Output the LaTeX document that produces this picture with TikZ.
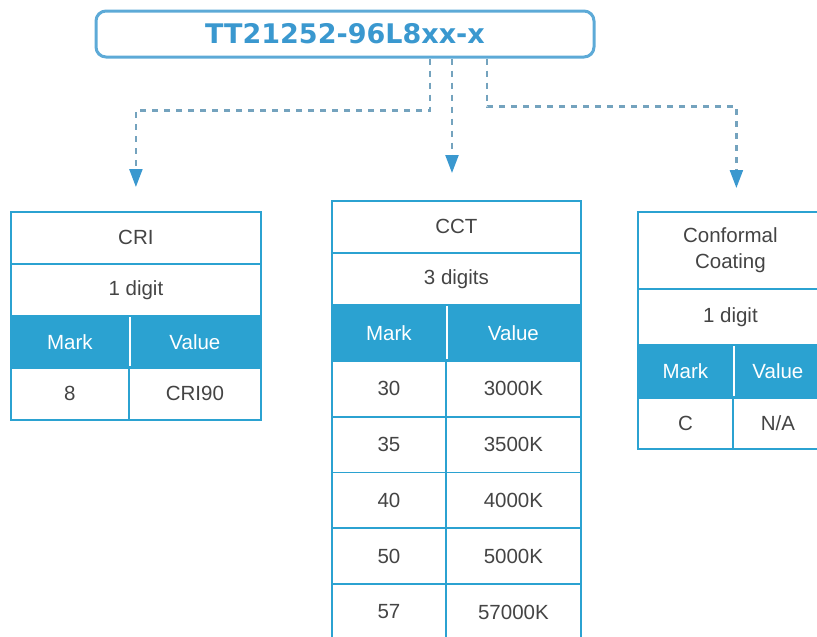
\documentclass[tikz,border=0pt]{standalone}
\usepackage{fontspec}
\setmainfont{Liberation Sans}
\newfontfamily\codefont{DejaVu Sans}
\usetikzlibrary{arrows.meta}
\definecolor{tblue}{HTML}{2BA2D1}
\definecolor{codeblue}{HTML}{3A98CF}
\definecolor{frameblue}{HTML}{5DAAD7}
\definecolor{dashgray}{HTML}{74A3BE}
\definecolor{txtgray}{HTML}{444444}
\tikzset{
  cell/.style={draw=tblue, line width=1.8pt, text=txtgray, anchor=north west,
    inner sep=0pt, align=center, font=\fontsize{20.5}{26}\selectfont},
  headcell/.style={cell, fill=tblue, text=white},
  link/.style={draw=dashgray, line width=2.3pt, dash pattern=on 6pt off 6pt,
    -{Triangle[width=13pt,length=18pt,color=codeblue]}},
}
\begin{document}
\begin{tikzpicture}[x=1pt,y=-1pt]
\useasboundingbox (0,0) rectangle (817,637);
% part number
\node[draw=frameblue, line width=3pt, rounded corners=10pt, minimum width=498pt,
  minimum height=46pt, text=codeblue, font=\codefont\bfseries\fontsize{27}{30}\selectfont]
  (code) at (345,34) {TT21252-96L8xx-x};

% CRI
\node[cell, minimum width=250pt, minimum height=52pt] (cri) at (10,211) {CRI};
\node[cell, minimum width=250pt, minimum height=52pt] (cridigit) at (10,263) {1 digit};
\node[headcell, minimum width=118pt, minimum height=52pt] (crimark) at (10,315) {Mark};
\node[headcell, minimum width=132pt, minimum height=52pt] (crival) at (128,315) {Value};
\node[cell, minimum width=118pt, minimum height=52pt] (crim0) at (10,367) {8};
\node[cell, minimum width=132pt, minimum height=52pt] (criv0) at (128,367) {CRI90};
\draw[white, line width=1.6pt] ([yshift=-2pt]crimark.north east) -- ([yshift=3pt]crimark.south east);

% CCT
\node[cell, minimum width=249pt, minimum height=52pt] (cct) at (331,200) {CCT};
\node[cell, minimum width=249pt, minimum height=52pt] (cctdigit) at (331,252) {3 digits};
\node[headcell, minimum width=114pt, minimum height=56pt] (cctmark) at (331,304) {Mark};
\node[headcell, minimum width=135pt, minimum height=56pt] (cctval) at (445,304) {Value};
\foreach \m/\v [count=\i from 0] in {30/3000K,35/3500K,40/4000K,50/5000K,57/57000K}{
  \node[cell, minimum width=114pt, minimum height=55.8pt] (cctm\i) at (331,{360+55.8*\i}) {\m};
  \node[cell, minimum width=135pt, minimum height=55.8pt] (cctv\i) at (445,{360+55.8*\i}) {\v};
}
\draw[white, line width=1.6pt] ([yshift=-2pt]cctmark.north east) -- ([yshift=3pt]cctmark.south east);

% Conformal coating
\node[cell, minimum width=185pt, minimum height=77pt] (cc) at (637,211) {Conformal\\Coating};
\node[cell, minimum width=185pt, minimum height=56pt] (ccdigit) at (637,288) {1 digit};
\node[headcell, minimum width=95pt, minimum height=53pt] (ccmark) at (637,344) {Mark};
\node[headcell, minimum width=90pt, minimum height=53pt] (ccval) at (732,344) {Value};
\node[cell, minimum width=95pt, minimum height=51pt] (ccm0) at (637,397) {C};
\node[cell, minimum width=90pt, minimum height=51pt] (ccv0) at (732,397) {N/A};
\draw[white, line width=1.6pt] ([yshift=-2pt]ccmark.north east) -- ([yshift=3pt]ccmark.south east);

% connectors
\coordinate (criin) at ([yshift=24pt]cri.north);
\coordinate (cctin) at ([yshift=27pt]cct.north);
\coordinate (ccin) at ([xshift=6pt,yshift=23pt]cc.north);
\draw[link] ([xshift=85pt]code.south) -- ++(0,52) -| (criin);
\draw[link] ([xshift=107pt]code.south) -- ([xshift=107pt]code.south |- cctin);
\draw[link] ([xshift=142pt]code.south) -- ++(0,48) -| (ccin);
\end{tikzpicture}
\end{document}
